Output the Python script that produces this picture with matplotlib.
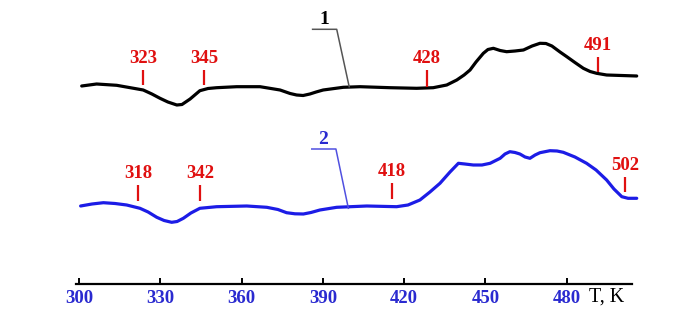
import numpy as np
import matplotlib
matplotlib.use("Agg")
import matplotlib.pyplot as plt

plt.rcParams['font.family'] = ['Liberation Serif', 'DejaVu Serif']

# curve 1 (black): temperature, K / signal (arb. units)
t1 = [301.0, 306.5, 313.9, 323.7, 326.9, 329.9, 332.8, 336.1, 338.0, 341.0,
      344.6, 347.6, 350.8, 358.2, 366.8, 374.2, 377.9, 380.3, 382.7, 385.2,
      387.5, 390.1, 397.5, 403.7, 414.8, 424.6, 430.7, 435.7, 439.4, 442.1,
      444.3, 446.5, 449.2, 450.9, 452.9, 455.4, 457.8, 460.9, 464.0, 467.2,
      470.1, 472.3, 474.5, 477.5, 480.0, 483.0, 486.1, 488.6, 491.0, 494.7,
      505.8]
s1 = [229.0, 231.0, 229.7, 225.0, 221.0, 216.7, 213.0, 210.0, 210.5, 216.0,
      224.3, 226.5, 227.3, 228.3, 228.3, 225.0, 221.5, 220.0, 219.5, 221.0,
      223.0, 225.0, 227.7, 228.3, 227.3, 226.7, 227.3, 230.0, 235.0, 240.0,
      245.0, 253.0, 261.7, 265.5, 266.7, 264.5, 263.3, 264.0, 265.0, 269.0,
      271.7, 271.5, 269.0, 263.0, 258.3, 252.5, 246.7, 243.5, 241.7, 240.0,
      239.0]

# curve 2 (blue)
t2 = [300.6, 304.8, 309.0, 313.3, 317.6, 322.5, 325.5, 328.7, 331.4, 334.2,
      336.2, 338.5, 341.3, 344.6, 350.8, 361.9, 369.3, 373.4, 376.6, 379.7,
      382.8, 385.6, 388.9, 395.1, 406.2, 417.2, 421.4, 425.8, 429.5, 433.2,
      436.9, 440.0, 442.4, 445.5, 448.7, 451.7, 455.4, 457.2, 459.0, 460.9,
      462.7, 464.6, 466.4, 468.3, 470.1, 473.8, 476.4, 478.7, 483.0, 487.3,
      490.8, 494.7, 497.4, 500.3, 502.6, 505.8]
s2 = [109.0, 111.0, 112.3, 111.5, 110.0, 106.7, 103.0, 97.7, 94.5, 92.7,
      93.5, 96.7, 102.0, 106.7, 108.3, 109.0, 107.7, 105.5, 102.3, 101.2,
      101.0, 102.5, 105.0, 107.7, 109.0, 108.3, 110.0, 115.0, 123.0, 131.7,
      143.0, 151.7, 151.0, 150.0, 150.0, 151.7, 156.7, 161.0, 163.3, 162.5,
      161.0, 158.0, 156.7, 160.0, 162.3, 164.3, 164.0, 162.7, 158.0, 151.7,
      145.0, 135.0, 126.0, 118.3, 116.7, 116.7]

# characteristic temperatures (marker position, marker span, label)
m1_pos = [323.6, 346.1, 428.4, 491.5]
m1_lo = [230.0, 230.0, 228.3, 243.3]
m1_hi = [245.0, 245.0, 245.0, 258.3]
m1_lab = ['323', '345', '428', '491']

m2_pos = [321.9, 344.6, 415.4, 501.5]
m2_lo = [114.3, 114.3, 115.7, 123.3]
m2_hi = [130.0, 130.0, 131.7, 138.3]
m2_lab = ['318', '342', '418', '502']

xticks = [300, 330, 360, 390, 420, 450, 480]

red = '#e01010'
blue = '#1c1ce6'
tickblue = '#2a2ad0'

fig = plt.figure(figsize=(6.93, 3.15), dpi=100)
ax = fig.add_axes([0, 0, 1, 1])
ax.set_xlim(270.85, 526.57)
ax.set_ylim(0, 315)

ax.plot(t1, s1, color='black', lw=2.3, solid_capstyle='round', solid_joinstyle='round')
ax.plot(t2, s2, color=blue, lw=2.3, solid_capstyle='round', solid_joinstyle='round')

ax.vlines(m1_pos, m1_lo, m1_hi, color=red, lw=1.6)
ax.vlines(m2_pos, m2_lo, m2_hi, color=red, lw=1.6)
for x, y, s in zip(m1_pos, m1_hi, m1_lab):
    ax.text(x, y + 3, s, color=red, fontsize=13.5, fontweight='bold', ha='center', va='bottom')
for x, y, s in zip(m2_pos, m2_hi, m2_lab):
    ax.text(x, y + 3, s, color=red, fontsize=13.5, fontweight='bold', ha='center', va='bottom')

# curve labels with leader lines
ax.plot([386.2, 395.1, 399.7], [285.7, 285.7, 228.3], color='#555555', lw=1.1)
ax.text(390.4, 287, '1', color='black', fontsize=14, fontweight='bold', ha='center', va='bottom')
ax.plot([385.9, 394.8, 399.4], [166.0, 166.0, 106.7], color='#5050e0', lw=1.1)
ax.text(390.0, 167, '2', color=tickblue, fontsize=14, fontweight='bold', ha='center', va='bottom')

# temperature axis
for side in ['top', 'right', 'left']:
    ax.spines[side].set_visible(False)
ax.spines['bottom'].set_position(('data', 31))
ax.spines['bottom'].set_bounds(298.9, 504)
ax.spines['bottom'].set_linewidth(1.6)
ax.set_yticks([])
ax.set_xticks(xticks)
ax.tick_params(axis='x', direction='in', length=4, width=1.4, pad=4,
               labelsize=13.5, labelcolor=tickblue)
for lab in ax.get_xticklabels():
    lab.set_fontweight('bold')
ax.text(494.8, 18, 'T, K', color='black', fontsize=14.5, ha='center', va='center')

fig.savefig('out.png', dpi=100)
